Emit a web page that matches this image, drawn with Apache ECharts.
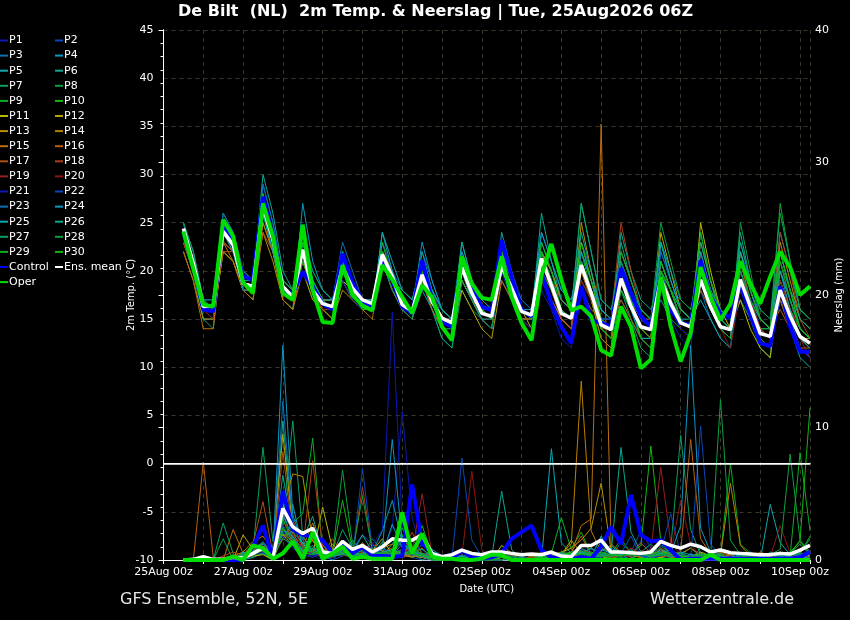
<!DOCTYPE html>
<html><head><meta charset="utf-8">
<script src="https://cdn.jsdelivr.net/npm/echarts@6/dist/echarts.min.js"></script>
<style>html,body{margin:0;padding:0;background:#000;}#c{width:850px;height:620px;}</style>
</head><body><div id="c"></div>
<script>
// time axis: hours since 25Aug 00z, data every 6h from 25Aug 12z
const dateLabels = ['25Aug 00z','27Aug 00z','29Aug 00z','31Aug 00z','02Sep 00z','04Sep 00z','06Sep 00z','08Sep 00z','10Sep 00z'];
const memberNames = ['P1','P2','P3','P4','P5','P6','P7','P8','P9','P10','P11','P12','P13','P14','P15','P16','P17','P18','P19','P20','P21','P22','P23','P24','P25','P26','P27','P28','P29','P30'];
const memberColors = ['#0a1ab4','#0a48b8','#0a70b8','#0a98c0','#0aa8b0','#0aa890','#0aa060','#0aa040','#0ab020','#10b810',
  '#b8b800','#b8a400','#b89000','#b88000','#b87010','#b86010','#b05010','#a84018','#982020','#901414',
  '#0a1ab4','#0a48b8','#0a70b8','#0a98c0','#0aa8b0','#0aa890','#0aa060','#0aa040','#0ab020','#10b810'];

// 2m temperature (°C)
const meanTemp = [24.4,20.8,16.3,16.4, 24.1,22.7,18.7,18.4, 26.7,23.2,18.4,17.3, 22.2,18.0,16.6,16.3, 20.4,18.2,17.0,16.6, 21.7,19.4,16.5,15.8, 19.6,16.8,15.1,14.6, 20.4,17.7,15.6,15.3, 20.6,18.2,15.8,15.4, 21.3,18.5,15.6,15.1, 20.6,17.7,14.4,13.9, 19.2,16.3,14.2,13.9, 19.2,16.6,14.6,14.2, 19.1,16.3,14.2,13.9, 19.1,16.3,13.5,13.2, 18.0,15.3,13.2,12.5];
const controlTemp = [24.0,20.5,16.0,15.8, 24.9,23.0,19.4,19.1, 27.7,23.6,17.9,17.7, 19.9,18.4,16.6,16.0, 21.8,18.8,16.9,16.0, 21.0,19.1,16.3,15.6, 21.1,17.0,14.7,14.2, 21.0,18.0,16.3,15.9, 23.2,19.4,15.9,15.3, 19.8,16.6,14.2,12.5, 18.4,14.9,14.6,14.2, 20.3,17.7,15.3,14.2, 19.4,15.9,14.6,14.4, 21.1,17.3,15.6,15.2, 18.8,15.6,12.5,12.2, 18.4,14.2,11.6,11.6];
const operTemp = [24.1,20.2,16.5,16.3, 25.3,23.6,18.8,17.7, 27.0,23.6,17.7,17.0, 24.8,18.0,14.7,14.6, 20.6,17.5,16.4,15.9, 20.6,19.1,17.3,15.6, 18.5,17.3,14.2,12.8, 21.5,18.7,17.2,17.0, 21.5,17.3,14.6,12.8, 19.5,22.8,19.1,15.9, 16.3,15.3,11.8,11.2, 16.3,14.2,9.9,10.8, 19.4,14.2,10.6,13.5, 20.4,17.3,14.9,16.6, 21.0,18.7,16.6,19.4, 22.0,20.4,17.5,18.4];

const P1_temp = [25,21,16,15, 25,23,18,18, 28,24,18,17, 21,18,17,16, 21,18,16,16, 23,20,17,16, 20,17,14,14, 19,17,16,15, 23,19,16,15, 18,16,13,12, 20,17,15,14, 21,18,15,14, 17,15,13,12, 20,17,15,15, 21,18,14,13, 17,14,12,11];
const P2_temp = [24,20,16,16, 24,22,19,19, 27,24,19,18, 23,19,17,17, 19,17,16,16, 21,19,17,16, 19,16,14,13, 22,19,16,16, 20,17,15,15, 22,19,17,16, 19,17,15,15, 18,16,13,12, 22,19,16,15, 18,16,14,13, 20,17,13,12, 19,16,14,13];
const P3_temp = [25,22,17,16, 25,24,19,18, 29,25,19,18, 24,19,17,16, 21,19,17,16, 22,20,18,17, 21,18,16,15, 21,18,16,15, 22,19,16,16, 20,18,15,14, 23,20,16,15, 20,17,14,13, 21,18,15,14, 18,15,13,12, 22,19,15,14, 20,17,14,13];
const P4_temp = [23,20,15,15, 23,22,19,18, 26,22,17,16, 27,21,18,17, 22,19,17,16, 21,18,16,15, 18,16,13,12, 19,17,16,15, 20,18,16,16, 24,21,18,17, 22,19,16,15, 17,15,13,13, 20,18,17,16, 19,17,15,14, 18,16,14,14, 24,20,16,15];
const P5_temp = [24,21,16,16, 24,23,20,19, 27,23,18,17, 22,19,17,17, 20,18,17,16, 24,21,18,17, 20,17,15,14, 23,19,16,15, 21,18,15,15, 22,20,17,16, 27,22,17,16, 19,16,13,13, 23,19,16,15, 17,15,13,12, 19,16,13,12, 17,14,11,10];
const P6_temp = [25,21,17,17, 26,24,20,19, 30,26,20,18, 22,18,17,16, 20,18,17,17, 22,19,18,17, 21,18,16,15, 20,18,17,16, 19,17,16,15, 23,20,17,16, 21,18,15,14, 24,20,17,16, 19,17,15,15, 21,18,15,14, 17,15,12,11, 22,18,15,14];
const P7_temp = [23,20,15,14, 23,22,19,18, 26,23,18,17, 20,17,16,15, 19,17,16,16, 21,19,17,16, 19,16,13,12, 18,16,15,14, 21,18,16,15, 21,19,16,15, 20,17,13,12, 18,15,12,11, 20,18,16,15, 24,19,16,15, 20,17,15,14, 21,18,16,15];
const P8_temp = [24,21,16,16, 24,23,19,19, 28,24,19,18, 22,18,17,17, 20,18,17,17, 22,19,17,16, 20,17,16,15, 20,18,16,16, 22,19,16,15, 19,17,15,14, 21,18,14,13, 22,19,16,15, 17,15,14,13, 19,16,14,13, 25,20,15,14, 18,15,13,12];
const P9_temp = [24,20,16,16, 23,22,18,17, 26,22,17,16, 23,19,17,17, 20,18,17,16, 22,19,16,15, 20,17,14,14, 20,18,16,15, 20,18,16,15, 21,19,15,14, 19,17,14,13, 18,16,14,13, 21,18,15,14, 19,16,14,14, 18,16,14,14, 27,21,16,15];
const P10_temp = [25,21,16,16, 25,23,19,18, 27,24,18,17, 22,18,16,16, 21,18,16,16, 22,19,17,16, 21,18,15,15, 20,17,15,14, 21,18,16,15, 20,18,16,15, 22,18,14,13, 20,17,13,12, 18,16,15,14, 21,17,15,14, 21,17,14,13, 19,16,14,13];
const P11_temp = [24,20,16,15, 22,21,18,18, 25,22,18,17, 21,18,17,17, 19,18,17,16, 21,18,17,16, 19,17,15,15, 19,17,15,14, 22,19,16,14, 19,17,15,14, 20,18,15,14, 19,16,14,13, 20,17,14,13, 25,20,16,14, 17,14,12,11, 19,16,13,12];
const P12_temp = [23,20,16,16, 23,22,19,18, 26,23,19,18, 21,18,16,16, 20,18,17,17, 22,20,17,16, 21,18,15,14, 18,16,14,13, 19,17,15,15, 22,20,17,16, 23,19,15,14, 19,16,14,13, 24,20,16,15, 20,17,14,13, 22,18,15,14, 17,15,13,13];
const P13_temp = [22,19,15,15, 22,21,18,17, 24,21,17,16, 20,17,16,15, 18,17,16,16, 21,18,16,16, 20,17,15,14, 19,17,15,14, 20,18,16,15, 20,18,15,14, 25,20,15,14, 21,17,14,13, 21,18,15,14, 20,17,15,14, 19,16,14,13, 23,19,15,14];
const P14_temp = [24,21,16,16, 24,23,19,18, 27,23,18,17, 22,18,17,16, 20,18,17,16, 21,19,17,16, 20,17,15,14, 21,18,16,15, 21,18,16,15, 22,19,15,14, 20,17,13,12, 22,19,16,15, 18,16,15,14, 23,19,16,15, 20,17,15,14, 18,15,13,12];
const P15_temp = [22,19,14,14, 23,21,18,17, 25,22,17,16, 21,18,16,15, 19,17,16,15, 22,19,16,15, 19,16,14,13, 20,17,15,14, 21,18,15,14, 19,17,15,14, 18,16,15,14, 20,17,15,15, 19,17,15,14, 22,18,15,14, 18,16,13,12, 20,17,14,13];
const P16_temp = [23,20,16,16, 23,22,19,18, 27,23,18,17, 22,19,17,16, 21,18,16,16, 22,19,17,16, 20,17,15,15, 20,17,15,14, 21,18,16,15, 21,18,16,15, 21,18,14,14, 20,17,15,14, 18,16,14,13, 19,16,14,13, 21,18,15,14, 16,14,12,12];
const P17_temp = [24,21,16,16, 22,22,19,18, 24,22,18,17, 22,18,17,16, 20,18,17,16, 23,20,17,16, 20,17,15,15, 21,18,16,15, 23,19,16,15, 21,19,17,16, 20,17,15,14, 17,15,13,12, 20,17,15,14, 18,16,14,13, 21,17,14,13, 17,14,12,11];
const P18_temp = [24,20,16,16, 24,22,19,18, 28,24,19,18, 22,19,17,17, 20,18,16,16, 21,18,16,15, 21,18,16,15, 20,18,16,15, 19,17,15,15, 20,18,15,14, 22,19,16,15, 25,20,16,15, 19,17,15,14, 21,18,15,14, 19,16,14,13, 24,20,15,13];
const P19_temp = [23,20,16,15, 23,22,18,18, 26,23,18,17, 21,18,16,16, 20,18,17,16, 22,19,17,16, 20,17,15,14, 22,19,16,15, 22,19,16,15, 21,18,16,15, 21,18,15,14, 19,16,14,13, 21,18,15,14, 20,17,14,13, 20,17,14,13, 21,17,13,11];
const P20_temp = [24,21,16,16, 25,23,19,18, 27,24,19,18, 22,19,17,16, 20,18,17,16, 21,19,17,16, 20,17,15,15, 20,17,15,15, 21,18,15,14, 20,18,16,15, 19,17,15,14, 18,16,14,13, 20,17,14,13, 22,18,14,12, 18,16,13,12, 19,16,13,12];
const P21_temp = [25,21,16,16, 24,23,19,18, 27,24,18,17, 23,19,17,16, 19,17,16,16, 21,18,17,16, 21,18,15,14, 21,18,15,14, 20,17,15,14, 22,19,16,15, 21,18,15,15, 19,17,15,14, 18,16,14,13, 20,17,14,13, 18,15,13,12, 18,15,12,11];
const P22_temp = [24,21,17,16, 25,23,19,18, 28,24,18,17, 22,19,17,16, 21,19,17,16, 23,20,17,16, 20,17,15,15, 22,19,16,15, 23,20,17,16, 21,19,16,15, 22,19,16,15, 21,18,15,14, 19,17,15,14, 22,18,15,14, 21,18,15,14, 18,15,12,11];
const P23_temp = [25,22,17,17, 26,24,20,19, 29,25,19,18, 24,20,18,17, 23,20,17,17, 22,19,17,16, 22,19,16,15, 21,18,16,15, 22,19,17,16, 21,19,16,15, 21,18,15,15, 20,18,16,15, 22,19,16,15, 19,17,15,14, 20,17,15,14, 20,17,14,13];
const P24_temp = [24,20,16,16, 24,22,18,18, 26,22,18,17, 23,19,17,16, 22,19,17,17, 21,19,17,16, 23,19,16,15, 22,19,17,16, 20,18,16,15, 24,21,18,17, 21,18,16,15, 18,16,14,14, 23,20,17,16, 21,18,16,15, 23,19,16,15, 20,17,14,13];
const P25_temp = [24,21,16,16, 24,23,19,18, 27,23,18,17, 22,19,17,17, 21,18,17,16, 24,20,17,16, 21,18,16,15, 20,17,15,15, 24,20,16,15, 22,19,16,15, 22,19,16,15, 20,17,15,14, 21,18,15,14, 22,18,14,13, 22,18,15,14, 20,16,13,12];
const P26_temp = [24,21,16,16, 25,23,19,19, 28,24,19,18, 22,18,17,16, 22,19,17,16, 22,19,17,16, 22,18,16,15, 23,19,16,15, 21,18,16,15, 26,21,17,16, 24,20,16,15, 23,19,16,15, 23,19,16,15, 23,19,15,14, 24,19,16,15, 22,18,15,14];
const P27_temp = [25,22,17,16, 25,23,19,18, 28,24,18,17, 23,20,18,17, 20,18,17,16, 21,18,16,15, 20,17,14,13, 19,17,15,14, 21,18,16,15, 22,19,16,15, 27,22,17,16, 21,18,16,15, 20,17,15,14, 21,18,16,15, 23,19,16,15, 26,21,16,15];
const P28_temp = [24,21,17,16, 24,23,19,18, 27,23,19,18, 22,18,17,16, 20,18,17,16, 21,19,17,16, 19,17,15,14, 20,18,16,15, 22,19,16,15, 20,18,16,15, 21,18,15,14, 22,19,16,15, 25,21,17,16, 20,17,15,14, 20,17,15,14, 22,18,14,13];
const P29_temp = [24,21,16,16, 24,23,19,18, 28,24,18,17, 21,18,17,16, 21,18,16,16, 22,19,17,16, 20,17,15,14, 21,18,16,15, 22,19,16,15, 23,20,16,15, 21,18,14,13, 20,17,13,12, 21,18,15,14, 19,16,14,13, 19,16,13,12, 21,17,14,13];
const P30_temp = [24,21,16,16, 25,23,19,18, 27,23,18,17, 23,19,17,16, 20,18,16,16, 23,19,17,16, 20,17,15,14, 20,18,16,15, 20,18,16,15, 22,19,16,15, 23,19,15,14, 18,16,14,13, 20,18,16,15, 24,19,16,15, 21,18,15,14, 22,18,14,13];

// precipitation (mm)
const meanRain = [0,0.05,0.25,0.05, 0.05,0.2,0.15,0.5, 0.9,0.15,3.9,2.5, 2.0,2.4,0.6,0.5, 1.4,0.8,1.1,0.6, 1.0,1.6,1.5,1.5, 1.9,0.5,0.25,0.4, 0.75,0.5,0.4,0.6, 0.6,0.5,0.4,0.45, 0.4,0.6,0.3,0.25, 1.1,1.1,1.5,0.6, 0.6,0.55,0.5,0.6, 1.4,1.1,0.9,1.2, 1.0,0.6,0.75,0.55, 0.5,0.45,0.4,0.4, 0.5,0.45,0.75,1.1];
const controlRain = [0,0,0,0, 0,0,0,1.0, 2.6,0.1,5.2,2.3, 1.9,1.75,1.5,0.5, 1.25,0.5,1.0,0.3, 0.3,0.25,0.3,5.7, 1.25,0.5,0.2,0.1, 0.75,0.2,0.1,0.2, 0.5,1.6,2.1,2.6, 0.75,0.2,0.1,0.1, 0.2,0.1,1.0,2.5, 1.2,4.9,1.9,1.4, 1.5,0.75,0,0.1, 0.1,0.1,0.1,0.1, 0.1,0.1,0.1,0.1, 0.1,0.1,0.2,0.6];
const operRain = [0,0,0,0, 0,0.25,0,1.1, 0.9,0.1,0.5,1.4, 0.1,2.1,0.1,0.5, 1.0,0.1,0.25,0.1, 0.1,0.1,3.6,0.5, 2.0,0.25,0.1,0.1, 0,0,0.1,0.4, 0.4,0,0,0, 0,0,0,0, 0,0,0,0, 0,0,0,0, 0,0,0,0, 0,0.4,0,0, 0,0,0,0, 0,0,0,0];

const P1_rain = [0,0,0,0, 0,0,0.3,0.5, 0.8,0.2,2.1,1.5, 0.6,0.4,0,0.2, 1.2,0.3,0.8,0, 0.5,2.4,11.2,3.1, 0.8,0,0,0, 0.2,0,0,0.4, 0,0.3,0,0, 0.5,0,0.2,0, 0.6,1.2,0.8,0, 0.4,0,1.5,0.7, 0.3,0,0.5,0, 0.2,0,0,0.3, 0,0.6,0,0, 0.2,0,0.4,0.8];
const P2_rain = [0,0,0,0, 0,0,0,0.4, 0.6,0,1.8,0.9, 0.4,0.2,0.6,0, 0.3,0.8,1.9,1.2, 0.3,0.4,0.5,0.2, 0,0,0.3,0, 7.7,1.5,0.2,0, 0,0.4,0,0, 0,0.3,0,0, 0.5,0.3,1.1,0.4, 0,0.6,2.2,0.9, 0.5,0.2,0,0, 0,0.3,0,0, 0.4,0,0,0, 0,0.3,0,0.2];
const P3_rain = [0,0,0,0, 0,0.2,0,0.6, 1.4,0.3,3.2,2.5, 1.1,0.5,0.3,0, 0.8,0.2,0.4,1.6, 0.7,0.3,1.2,0.5, 0.2,0,0,0.3, 0,0.5,0,0, 0.3,0,0,0.2, 0,0,0.6,0.2, 0.9,0.4,0,0.3, 1.3,0.6,0.2,0, 0.8,0.3,0,0.5, 0,0.2,0,0, 0.3,0,0.2,0, 0,0.5,0.3,0];
const P4_rain = [0,0,0,0, 0,0,0.2,0.3, 0.9,0.4,16.2,3.4, 1.2,0.6,0.2,0.4, 0.5,1.1,0.3,0.6, 2.2,4.5,1.3,0.4, 0.3,0.6,0,0, 0.4,0,0,0.2, 0.5,0,0,0, 0,0.4,0.2,0, 0.3,0,0.7,1.1, 0.5,0.2,0,0.4, 0.9,0.3,0,0.2, 0.6,0.3,0,0, 0.2,0,0,0.4, 0.6,0,0.2,0];
const P5_rain = [0,0,0,0, 0,0,0,0.2, 0.5,0,2.6,4.2, 0.8,1.9,0.4,0.2, 0.6,0.3,1.1,0.5, 0.4,2.7,0.9,0.3, 0.2,0.8,0.3,0, 0,0.2,0,0, 0,0.5,0.2,0, 0,8.4,1.3,0.5, 0.3,0.2,1.8,0.6, 0.4,0,0.7,0.3, 0.2,0,0.4,0.9, 0.3,0.2,0,0, 0,0.2,0,4.2, 1.3,0.4,0,0.3];
const P6_rain = [0,0,0,0, 0,0.4,0.2,0.9, 1.3,0.6,10.5,2.9, 1.6,3.3,0.5,0.4, 0.8,0.5,1.9,0.6, 0.3,1.2,2.4,0.9, 0.4,0,0.2,0, 0.3,0.5,0,0, 0.6,0,0,0.3, 0.2,0,0.4,0, 0.8,0.4,0.9,0.5, 8.5,2.1,0.6,0.3, 1.5,0.4,0.2,0, 0.9,0.5,0.2,0, 0.3,0,0.2,0, 0.4,0.2,0.6,0];
const P7_rain = [0,0,0,0, 2.8,0.5,0,0.7, 8.5,1.4,4.2,1.8, 0.6,0.4,1.1,0.3, 2.3,0.9,0.4,0.2, 0.7,0.5,1.4,0.6, 0,0.3,0,0, 0.2,0,0,0, 0,0.4,0,0, 0.3,0,0,0.2, 0.5,0,1.4,0.3, 0.2,0,0.6,1.2, 0.5,0.9,9.4,2.3, 0.4,0.2,0,0.5, 0,0.3,0,0, 0.6,0,0.3,0.5];
const P8_rain = [0,0,0,0, 1.6,0,0.3,0.2, 0.6,0.3,2.4,1.2, 0.4,0.8,0.3,0.5, 6.8,1.2,0.5,0.2, 0.4,0.6,0.3,1.6, 0.5,0,0,0.2, 0,0,0.4,0, 0.2,0,0,0, 0.4,0.2,0,0.3, 0.6,0.5,0.3,0, 0.4,0.8,0.3,0, 1.1,0.4,0,0.3, 0.5,0.2,12.1,1.5, 0.4,0.2,0,0, 0.3,0.5,1.2,0.4];
const P9_rain = [0,0,0,0, 0,0,0.5,0.4, 0.9,0.2,1.6,2.8, 3.5,9.2,0.6,0.3, 0.5,0.3,0.8,0.2, 1.4,0.6,0.3,0.5, 2.6,0.4,0,0, 0.2,0,0.3,0, 0.5,0,0.2,0, 0,0.5,3.2,0.8, 0.3,0.2,0.5,0.4, 1.6,0.5,0.3,0, 0.9,0.3,0.2,0, 0.5,0.3,0.4,7.3, 1.2,0.5,0,0, 0.3,0.2,0.5,1.8];
const P10_rain = [0,0,0,0, 0,0,0.4,0.9, 1.2,0.5,3.1,1.3, 0.7,1.5,0.2,0.4, 4.5,0.8,0.3,0.5, 0.2,0.4,1.9,0.7, 0.3,0,0,0.2, 0,0.3,0,0, 0,0,0.3,0, 0.4,0,0.5,0.9, 2.1,0.4,0.2,0.6, 0.3,0.5,1.1,8.6, 1.4,0.3,0,0, 0.2,0.5,0.3,0, 0.4,0,0.2,0, 0.3,0.6,1.4,0.5];
const P11_rain = [0,0,0,0, 0,0,0.6,0.3, 0.4,0,1.9,1.1, 0.6,0.4,4.0,0.8, 0.5,0.2,0.9,0.3, 0.6,0.3,0.4,0.2, 0.5,0,0.2,0, 0.3,0,0,0, 1.1,0.5,0,0, 0,0.3,0.4,0, 0.7,0.5,0.3,0, 0.6,0.2,0.5,0.3, 0.2,0,0.4,0, 0.6,0.3,0.2,0, 0.4,0,0.5,0.3, 0,0.2,0,0.4];
const P12_rain = [0,0,0,0, 0,0,1.9,0.8, 0.6,0.9,9.5,2.4, 1.8,0.6,0.5,1.2, 0.4,0.9,0.3,0.7, 1.6,0.4,0.8,0.3, 0.4,0.2,0,0, 0,0.3,0,0.5, 0.2,0,0,0, 0.6,0.2,0.4,1.5, 0.5,0.9,0.3,0.2, 0.4,0.3,0.6,0, 0.2,0.5,0,0, 0.3,0,0.2,0.4, 0,0.3,0,0, 0.5,0,0.2,0];
const P13_rain = [0,0,0,0, 0,0,0.4,1.1, 0.8,0.5,3.8,6.5, 6.3,1.4,0.8,0.4, 1.1,0.5,0.3,0.9, 0.7,0.4,0.6,0.3, 0.5,0.3,0,0, 0.2,0,0,0, 0.4,0,0.3,0, 0,0.4,0.6,0.9, 1.5,2.4,5.8,0.7, 0.5,0.3,0.2,0.4, 0.8,0.3,0,0.2, 0.5,0,0.3,0, 0.2,0,0.3,0, 0.4,0.6,0,0.2];
const P14_rain = [0,0,0,0, 0,0.3,0.6,1.4, 1.8,0.7,2.5,1.6, 0.9,2.8,0.6,0.3, 0.5,0.4,1.3,0.5, 0.9,1.2,0.4,0.3, 0.2,0,0.3,0, 0,0.4,0,0, 0.2,0,0,0.3, 0,0.2,0.5,1.2, 13.5,2.2,0.6,0.4, 0.3,0.5,0.2,0, 0.7,0.3,0.5,0.9, 0.4,0.2,0.3,5.8, 1.1,0.3,0,0, 0.2,0.4,0,0.3];
const P15_rain = [0,0,0,0, 0,2.3,0.5,0.8, 1.2,0.4,2.0,1.4, 0.5,0.9,0.3,0.6, 0.4,0.2,0.9,0.3, 0.5,0.3,0.6,1.1, 0.3,0,0,0, 0.3,0,0.2,0, 0,0.3,0,0, 0.4,0,0.3,0.5, 2.6,3.1,32.9,1.2, 0.6,0.3,0.4,0.2, 0.5,0.3,0,0, 0.4,0.2,0.6,0.3, 0.2,0,0.4,0, 0.3,0.2,0,0.5];
const P16_rain = [0,0,7.4,0.2, 0,0,0.4,0.9, 0.6,0.8,1.7,2.2, 0.4,0.6,1.2,0.3, 0.7,0.4,0.5,0.8, 0.3,0.6,0.2,0.4, 0.9,0.2,0,0, 0,0.2,0,0, 0.3,0,0,0, 0.2,0.4,0,0.6, 1.8,0.4,0.9,0.5, 0.3,0.6,0.3,0.2, 0.9,0.4,0.6,9.1, 1.6,0.5,0.2,0, 0.4,0,0.6,0.3, 0,0.3,0.2,0];
const P17_rain = [0,0,0,0, 0.3,0.6,0.4,1.2, 4.4,0.5,8.2,1.9, 1.1,0.6,0.4,1.6, 0.5,0.3,1.1,0.4, 0.6,0.9,0.3,0.5, 0.4,0,0.3,0, 0.2,0,0,0.4, 0,0.2,0,0, 0.3,0,0.6,0.4, 0.8,0.5,0.3,0.2, 0.6,0.4,1.3,0.5, 0.3,0.2,0,0.4, 0.3,0,0.5,0.2, 0,0.3,0,0, 0.4,0,0.3,0.2];
const P18_rain = [0,0,0,0, 0,0,0.3,0.6, 0.9,0.4,3.6,1.1, 0.8,7.5,0.9,0.4, 0.6,0.3,5.5,0.8, 0.4,0.3,0.6,2.1, 0.5,0.3,0,0, 0,0.3,0,0, 0.4,0,0,0.2, 0,0.3,0.2,0.5, 0.6,0.3,0.4,0.2, 0.5,0.3,0.7,0.4, 0.6,0.3,0,0.2, 0.4,0.2,0,0.3, 0,0,0.4,0, 0.3,0.5,0,0.2];
const P19_rain = [0,0,0,0, 0,0.4,0.2,0.5, 1.1,0.3,2.3,3.1, 0.6,0.4,0.3,0.2, 0.9,0.5,0.6,1.3, 0.4,0.5,0.8,0.6, 5.0,0.4,0,0, 0.3,0,0,0, 0,0.4,0,0, 0.2,0,0.3,0.4, 0.5,0.3,0.6,0.2, 0.4,0.9,0.5,0.8, 7.0,1.3,0.4,0, 0.5,0.3,0,0, 0.2,0.4,0,0.3, 0.2,0,0.3,0.6];
const P20_rain = [0,0,0,0, 0,0,0.2,0.3, 0.7,0.4,1.5,1.9, 0.5,0.6,0.3,0.4, 0.3,0.5,0.8,0.4, 0.6,0.3,0.5,0.9, 0.4,0.3,0.2,0, 0.3,6.7,0.8,0, 0,0.3,0,0, 0.2,0,0.3,0, 0.4,0.6,0.3,0.5, 0.4,0.2,0.6,0.3, 0.9,0.5,4.5,1.2, 0.3,0.2,0.4,0, 0.3,0,0,0.2, 2.6,0.5,0,0.3];
const P21_rain = [0,0,0,0, 0,0,0.2,0.4, 0.6,0.5,1.8,0.9, 0.4,0.3,0.5,0.6, 0.3,0.8,0.4,1.1, 2.3,18.7,2.6,0.8, 0.3,0,0.4,0, 0,0.2,0,0, 0,0,0.3,0, 0.4,0,0.2,0.6, 0.8,0.3,0.5,0.4, 0.6,0.3,0.4,0.2, 0.3,0.6,0,0, 0.2,0.4,0,0.3, 0,0.2,0,0, 0.4,0,0.3,0.5];
const P22_rain = [0,0,0,0, 0,0,0.3,0.5, 0.8,0.2,2.6,1.4, 0.9,0.4,0.6,0.3, 0.5,0.2,6.9,0.9, 0.4,0.6,0.8,0.3, 1.2,0.3,0,0, 0.2,0,0.3,0, 0,0.2,0,0, 0.3,0,0.4,0, 0.3,0.8,0.6,0.4, 0.5,1.8,0.3,0.2, 0.6,3.5,0.4,0, 10.1,1.2,0.3,0, 0.4,0,0.3,0, 0.2,0.4,0,0.3];
const P23_rain = [0,0,0,0, 0,0,0.4,0.3, 1.2,0.6,12.0,2.8, 1.5,0.5,0.4,0.3, 0.6,0.4,0.3,0.6, 0.9,0.5,1.5,0.4, 0.3,0,0.2,0, 0.4,0,0,0.3, 0.2,0,0,0, 0,0.3,0,0.4, 0.5,0.3,0.2,0.6, 0.4,0.6,0.3,0, 0.5,0.3,0.2,0.4, 0.3,0,0.2,0, 0.5,0,0,0, 0.3,0.2,0.4,0];
const P24_rain = [0,0,0,0, 0,0.3,0.2,0.6, 0.9,0.5,3.5,1.6, 0.7,0.9,0.5,0.3, 0.4,1.5,0.6,0.5, 0.8,9.1,1.4,0.6, 0.4,0.2,0,0, 0.3,0,0.2,0, 0,0.3,0,0, 0.2,0,0.3,0.5, 0.6,0.4,0.3,0.9, 0.5,0.4,0.6,0.3, 0.8,0.5,2.6,16.2, 2.4,0.6,0.3,0.2, 0.4,0,0.3,0, 0.5,0.2,0,0.3];
const P25_rain = [0,0,0,0, 0,0,0.4,0.5, 0.7,0.3,2.2,1.8, 0.6,1.1,0.3,0.4, 0.5,0.6,0.4,0.3, 0.6,0.8,0.4,0.5, 0.3,0,0,0.2, 0,0.4,0,0, 0.3,0,0,0, 0.4,0.2,0.5,0.3, 0.6,0.3,0.8,0.5, 0.4,0.7,0.4,0.3, 0.5,0.2,0.6,0.4, 0.3,0.5,0.2,0, 0.4,0.3,0,0.6, 0.3,0,0.4,0];
const P26_rain = [0,0,0,0, 0,0,0.6,0.4, 0.9,0.7,6.4,2.1, 1.3,0.5,0.8,0.4, 0.7,0.3,0.5,0.6, 0.4,0.5,1.8,0.6, 0.5,0.2,0,0, 0.3,0,0,0.2, 5.2,0.8,0,0, 0.2,0,0.3,0.4, 0.5,0.9,0.4,0.3, 0.6,0.4,0.5,0.2, 0.5,0.8,0.3,0.2, 0.4,0.3,0.5,0, 0.3,0.2,0.4,0, 0.6,0.3,0.2,0.5];
const P27_rain = [0,0,0,0, 0,0,0.3,0.7, 1.0,0.4,2.9,10.5, 1.8,0.7,0.4,0.6, 0.5,0.8,0.3,0.4, 0.6,0.4,0.5,0.7, 0.8,0.3,0,0, 0,0.2,0,0, 0.3,0,0.2,0, 0,0.3,0.6,0.4, 0.9,0.5,0.3,0.4, 0.3,0.5,0.6,0.4, 0.3,0.6,0.5,0.2, 0.4,0.3,0.8,0.5, 0.4,0.6,0,0, 0.3,0.4,0.5,1.6];
const P28_rain = [0,0,0,0, 0,0,0.5,0.3, 0.8,0.3,1.6,1.2, 0.5,0.9,0.6,0.3, 1.4,0.5,4.8,0.7, 0.5,0.3,0.6,0.4, 0.4,0,0.2,0, 0,0,0.3,0, 0.4,0,0,0, 0.3,0,0.4,0.6, 0.7,0.4,0.5,0.3, 0.5,0.3,0.4,0.6, 0.4,0.3,0.5,0.2, 0.3,0.5,0.4,0, 0.2,0.3,0,0.4, 0.8,8.0,1.5,0.6];
const P29_rain = [0,0,0,0, 0,0,0.2,0.6, 0.7,0.5,2.0,1.3, 0.6,0.4,0.7,0.5, 0.4,0.3,0.8,0.5, 0.3,0.6,0.4,0.8, 0.5,0,0,0, 0.2,0,0,0, 0,0.3,0,0, 0.2,0,0.3,0.5, 0.4,0.6,0.3,0.2, 0.6,0.4,0.5,0.3, 0.4,0.6,0.3,0, 0.3,0.4,0.2,0, 0.3,0,0.2,0, 0.5,0.3,8.1,2.2];
const P30_rain = [0,0,0,0, 0,0,0.3,0.5, 0.9,0.4,2.4,1.5, 0.8,0.6,0.4,0.3, 0.6,0.4,0.5,0.3, 0.5,0.7,0.6,0.5, 0.3,0.2,0,0, 0,0.3,0,0, 0.2,0,0,0, 0.3,0.2,0.4,0.6, 0.5,0.3,0.6,0.4, 0.3,0.6,0.4,0.5, 0.6,0.4,0.3,0.2, 0.5,0.3,0.4,0, 0.2,0.4,0,0.3, 0.6,0.4,1.5,11.5];

const memberTemps = [P1_temp,P2_temp,P3_temp,P4_temp,P5_temp,P6_temp,P7_temp,P8_temp,P9_temp,P10_temp,P11_temp,P12_temp,P13_temp,P14_temp,P15_temp,P16_temp,P17_temp,P18_temp,P19_temp,P20_temp,P21_temp,P22_temp,P23_temp,P24_temp,P25_temp,P26_temp,P27_temp,P28_temp,P29_temp,P30_temp];
const memberRains = [P1_rain,P2_rain,P3_rain,P4_rain,P5_rain,P6_rain,P7_rain,P8_rain,P9_rain,P10_rain,P11_rain,P12_rain,P13_rain,P14_rain,P15_rain,P16_rain,P17_rain,P18_rain,P19_rain,P20_rain,P21_rain,P22_rain,P23_rain,P24_rain,P25_rain,P26_rain,P27_rain,P28_rain,P29_rain,P30_rain];

const FIRST_HOUR = 12, STEP = 6;
const toXY = arr => arr.map((v, i) => [FIRST_HOUR + STEP * i, v]);
const FONT = 'DejaVu Sans';

function lineSeries(name, data, color, width, yIdx, z, extra) {
  return Object.assign({
    name, type: 'line', data: toXY(data), yAxisIndex: yIdx,
    showSymbol: false, symbol: 'none', smooth: false, z: z, silent: true,
    lineStyle: { color, width }, itemStyle: { color }
  }, extra || {});
}

const series = [];
memberNames.forEach((n, i) => {
  series.push(lineSeries(n, memberTemps[i], memberColors[i], 1, 0, 2));
  series.push(lineSeries(n, memberRains[i], memberColors[i], 1, 1, 2));
});
series.push(lineSeries('Control', controlTemp, '#0000ff', 4, 0, 3));
series.push(lineSeries('Control', controlRain, '#0000ff', 4, 1, 3));
series.push(lineSeries('Ens. mean', meanTemp, '#ffffff', 3.5, 0, 4, {
  markLine: { silent: true, symbol: 'none', label: { show: false },
    lineStyle: { color: '#ffffff', type: 'solid', width: 1.5 }, data: [{ yAxis: 0 }] }
}));
series.push(lineSeries('Ens. mean', meanRain, '#ffffff', 3.5, 1, 4));
series.push(lineSeries('Oper', operTemp, '#00dd00', 4, 0, 5));
series.push(lineSeries('Oper', operRain, '#00dd00', 4, 1, 5));

const legendCol1 = [];
const legendCol2 = [];
memberNames.forEach((n, i) => (i % 2 === 0 ? legendCol1 : legendCol2).push(n));
legendCol1.push('Control', 'Oper');
legendCol2.push('Ens. mean');

const legendBase = {
  orient: 'vertical', top: 34, padding: 0, icon: 'rect', itemWidth: 8, itemHeight: 2, itemGap: 2.1,
  textStyle: { color: '#ffffff', fontSize: 11, fontFamily: FONT, lineHeight: 13, padding: [0, 0, 0, -4] },
  selectedMode: false
};

const chart = echarts.init(document.getElementById('c'), null, { renderer: 'canvas' });
chart.setOption({
  backgroundColor: '#000000',
  animation: false,
  title: [
    { text: 'De Bilt  (NL)  2m Temp. & Neerslag | Tue, 25Aug2026 06Z', left: 178, top: 4, padding: 0,
      textStyle: { color: '#ffffff', fontSize: 16, fontWeight: 'bold', fontFamily: FONT } },
    { text: 'GFS Ensemble, 52N, 5E', left: 120, top: 592, padding: 0,
      textStyle: { color: '#e6e6e6', fontSize: 16, fontWeight: 'normal', fontFamily: FONT } },
    { text: 'Wetterzentrale.de', left: 650, top: 592, padding: 0,
      textStyle: { color: '#e6e6e6', fontSize: 16, fontWeight: 'normal', fontFamily: FONT } }
  ],
  legend: [
    Object.assign({ left: 0, data: legendCol1 }, legendBase),
    Object.assign({ left: 55, data: legendCol2 }, legendBase)
  ],
  grid: { left: 163.5, right: 40, top: 30, bottom: 60, containLabel: false, outerBoundsMode: 'none' },
  xAxis: [
    { type: 'value', min: 0, max: 390, interval: 24, position: 'bottom',
      name: 'Date (UTC)', nameLocation: 'middle', nameGap: 24,
      nameTextStyle: { color: '#ffffff', fontSize: 10, fontFamily: FONT },
      axisLine: { show: true, lineStyle: { color: '#ffffff', width: 1 } },
      axisTick: { show: false },
      axisLabel: { color: '#ffffff', fontSize: 11, fontFamily: FONT, margin: 7, hideOverlap: false,
        formatter: v => (v % 48 === 0 && v / 48 < dateLabels.length) ? dateLabels[v / 48] : '' },
      splitLine: { show: true, lineStyle: { color: '#3a3a2c', type: [4, 4], width: 1 } } },
    { type: 'value', min: 0, max: 390, interval: 24, position: 'top',
      axisLine: { show: true, lineStyle: { color: '#ffffff', width: 1 } },
      axisTick: { show: true, inside: true, length: 4, lineStyle: { color: '#ffffff' } },
      axisLabel: { show: false }, splitLine: { show: false } }
  ],
  yAxis: [
    { type: 'value', min: -10, max: 45, interval: 5, position: 'left',
      name: '2m Temp. (°C)', nameLocation: 'middle', nameGap: 27, nameRotate: 90, nameMoveOverlap: false,
      nameTextStyle: { color: '#ffffff', fontSize: 10, fontFamily: FONT },
      axisLine: { show: true, lineStyle: { color: '#ffffff', width: 1 } },
      axisTick: { show: false },
      axisLabel: { color: '#ffffff', fontSize: 11, fontFamily: FONT, margin: 10 },
      splitLine: { show: true, lineStyle: { color: '#3a3a2c', type: [4, 4], width: 1 } } },
    { type: 'value', min: 0, max: 40, interval: 10, position: 'right',
      name: 'Neerslag (mm)', nameLocation: 'middle', nameGap: 24, nameRotate: 90, nameMoveOverlap: false,
      nameTextStyle: { color: '#ffffff', fontSize: 10, fontFamily: FONT },
      axisLine: { show: true, lineStyle: { color: '#ffffff', width: 1 } },
      axisTick: { show: true, inside: true, length: 5, lineStyle: { color: '#ffffff' } },
      minorTick: { show: true, splitNumber: 10, length: 3, lineStyle: { color: '#ffffff' } },
      axisLabel: { color: '#ffffff', fontSize: 11, fontFamily: FONT, margin: 5 },
      splitLine: { show: false } }
  ],
  series
});
</script>
</body></html>
